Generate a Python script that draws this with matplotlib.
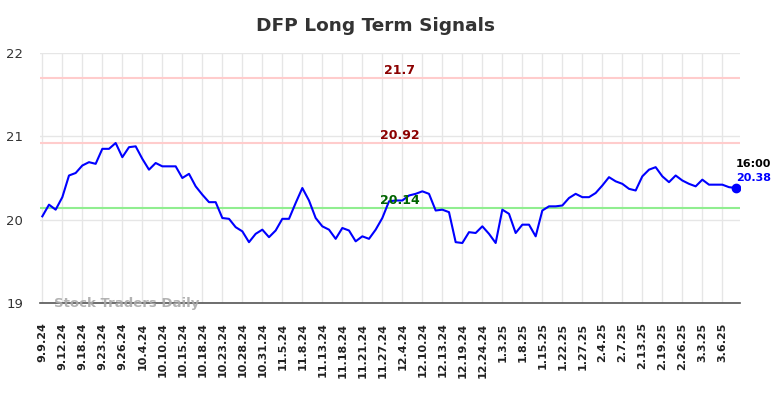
import matplotlib
matplotlib.use("Agg")
import matplotlib.pyplot as plt

title = "DFP Long Term Signals"
tick_labels = ["9.9.24", "9.12.24", "9.18.24", "9.23.24", "9.26.24", "10.4.24", "10.10.24",
               "10.15.24", "10.18.24", "10.23.24", "10.28.24", "10.31.24", "11.5.24", "11.8.24",
               "11.13.24", "11.18.24", "11.21.24", "11.27.24", "12.4.24", "12.10.24", "12.13.24",
               "12.19.24", "12.24.24", "1.3.25", "1.8.25", "1.15.25", "1.22.25", "1.27.25",
               "2.4.25", "2.7.25", "2.13.25", "2.19.25", "2.26.25", "3.3.25", "3.6.25"]
prices = [20.04, 20.18, 20.12, 20.27, 20.53, 20.56, 20.65, 20.69, 20.67, 20.85,
          20.85, 20.92, 20.75, 20.87, 20.88, 20.73, 20.60, 20.68, 20.64, 20.64,
          20.64, 20.50, 20.55, 20.40, 20.30, 20.21, 20.21, 20.02, 20.01, 19.91,
          19.86, 19.73, 19.83, 19.88, 19.79, 19.87, 20.01, 20.01, 20.20, 20.38,
          20.23, 20.02, 19.92, 19.88, 19.77, 19.90, 19.87, 19.74, 19.80, 19.77,
          19.88, 20.02, 20.22, 20.23, 20.23, 20.29, 20.31, 20.34, 20.31, 20.11,
          20.12, 20.09, 19.73, 19.72, 19.85, 19.84, 19.92, 19.83, 19.72, 20.12,
          20.07, 19.84, 19.94, 19.94, 19.80, 20.11, 20.16, 20.16, 20.17, 20.26,
          20.31, 20.27, 20.27, 20.32, 20.41, 20.51, 20.46, 20.43, 20.37, 20.35,
          20.52, 20.60, 20.63, 20.52, 20.45, 20.53, 20.47, 20.43, 20.40, 20.48,
          20.42, 20.42, 20.42, 20.39, 20.38]
signal_levels = [21.7, 20.92, 20.14]
signal_line_colors = ["#ffcccc", "#ffcccc", "#90ee90"]
signal_text_colors = ["#8b0000", "#8b0000", "#006400"]
last_time = "16:00"
tick_step = 3

fig = plt.figure(figsize=(7.84, 3.98), dpi=100)
ax = fig.add_axes([40/784, 1 - 303/398, 700/784, 250/398])

x = list(range(len(prices)))
ax.plot(x, prices, color="blue", lw=1.5, zorder=3)
ax.plot(x[-1], prices[-1], "o", color="blue", ms=6, zorder=4)

for lvl, lc, tc in zip(signal_levels, signal_line_colors, signal_text_colors):
    ax.axhline(lvl, color=lc, lw=1.5, zorder=2)
    ax.text(0.514, lvl + 0.015, f"{lvl:g}", transform=ax.get_yaxis_transform(),
            ha="center", va="bottom", color=tc, fontsize=9, fontweight="bold", zorder=5)

ax.text(x[-1], prices[-1] + 0.29, last_time, ha="left", va="center",
        fontsize=8, fontweight="bold", color="black", clip_on=False)
ax.text(x[-1], prices[-1] + 0.12, f"{prices[-1]:.2f}", ha="left", va="center",
        fontsize=8, fontweight="bold", color="blue", clip_on=False)

ax.text(0.02, 0.0, "Stock Traders Daily", transform=ax.transAxes, ha="left", va="center",
        fontsize=9.5, fontweight="bold", color="#aaaaaa", alpha=0.9, zorder=5)

ax.set_xlim(-0.35, len(prices) - 0.35)
ax.set_ylim(19, 22)
ax.set_yticks([19, 20, 21, 22])
ax.set_xticks(list(range(0, len(prices), tick_step))[:len(tick_labels)])
ax.set_xticklabels(tick_labels, rotation=90, fontsize=8, fontweight="bold", color="#222222")
ax.tick_params(axis="x", length=0, pad=14)
ax.tick_params(axis="y", length=0, pad=12, labelsize=9.5, labelcolor="#333333")
ax.grid(True, color="#e6e6e6", lw=1, zorder=0)
ax.set_axisbelow(True)
for s in ["top", "right", "left"]:
    ax.spines[s].set_visible(False)
ax.spines["bottom"].set_color("#555555")
ax.spines["bottom"].set_linewidth(1.2)

fig.text(375/784, 1 - 26/398, title, ha="center", va="center", fontsize=13.3,
         fontweight="bold", color="#333333")

fig.savefig("out.png", dpi=100)
